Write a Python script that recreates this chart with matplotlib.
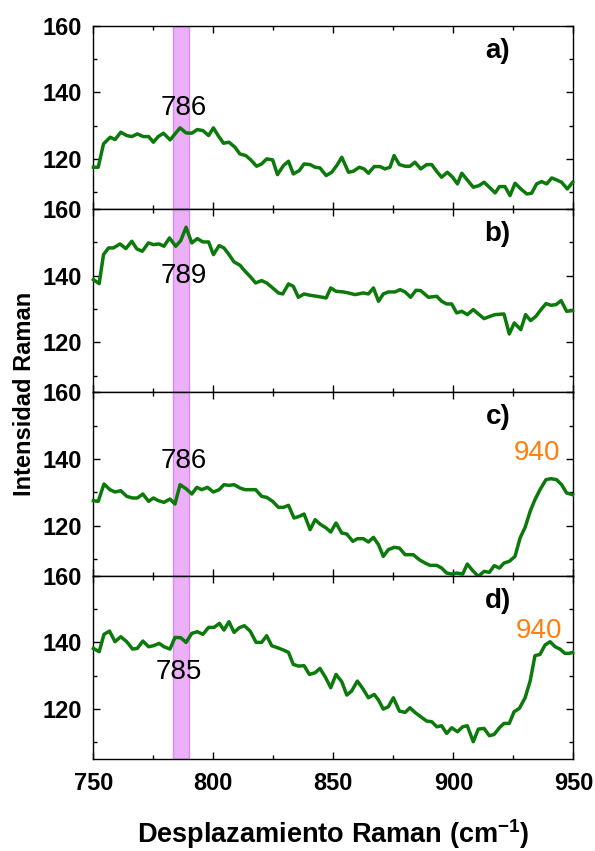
import numpy as np
import matplotlib.pyplot as plt
from matplotlib.ticker import MultipleLocator

plt.rcParams['font.family'] = ['Liberation Sans', 'DejaVu Sans']
plt.rcParams['mathtext.fontset'] = 'custom'
plt.rcParams['mathtext.rm'] = 'Liberation Sans'
plt.rcParams['mathtext.bf'] = 'Liberation Sans:bold'

# panel a)
xa = [750, 752, 754.2, 757, 759, 761.4, 763.9, 766, 768.3, 770.8, 773, 775, 777, 779.2, 782, 784,
      786.1, 788.6, 791, 793.3, 795.6, 798, 800, 802, 804.2, 806.5, 809, 811, 813.5, 815.6, 818,
      820.1, 822.2, 824.7, 826.7, 829.2, 831.3, 833.3, 835.8, 837.8, 840.3, 842.4, 844.4, 847,
      849.3, 851.4, 853.5, 856.3, 858.3, 860.8, 862.8, 864.6, 867, 869.4, 871.5, 873.6, 875.3,
      877.5, 879.9, 881.9, 884, 886.4, 888.9, 891, 893, 895.1, 897.5, 899.7, 901.7, 903.5, 905.8,
      908.3, 910.7, 912.8, 915, 917.4, 919.2, 921.5, 923.6, 925.7, 928.1, 930.6, 932.6, 934.7,
      936.8, 938.9, 941, 943, 945.1, 947.5, 949.7]
ya = [117.5, 117.5, 124.5, 126.5, 125.8, 128, 127, 126.7, 127.5, 126.7, 126.7, 125, 126.7, 127.7,
      125.7, 127.5, 129.3, 127.8, 127.7, 128.8, 128.5, 127, 129.3, 127, 124.7, 125, 123.5, 121.5,
      121, 119.7, 117.8, 118.5, 120, 119.7, 115.3, 118, 119.3, 115.5, 116.5, 118.5, 118.3, 117.5,
      117.3, 115, 116, 118, 120.5, 116, 116.3, 117.5, 117, 115.7, 117.7, 117.7, 117, 117.5, 121,
      118.3, 117.8, 117.8, 119, 117, 118.3, 118.3, 116.3, 114.5, 116, 114.5, 112.5, 115.7, 113.7,
      111.5, 112, 113, 111.5, 109.8, 111.7, 111.7, 109, 112.7, 111, 109.5, 109.7, 112.5, 113.2,
      112.5, 114.3, 113.7, 113, 111, 113]

# panel b)
xb = [750, 752.4, 754.2, 756.3, 758.3, 761.1, 763.5, 766, 768.1, 770.4, 772.9, 775, 777.4, 779.4,
      781.7, 784.3, 786.4, 788.6, 791, 793.3, 795.6, 798, 800, 802.4, 804.4, 806.5, 808.6, 811.1,
      813.2, 815.6, 817.6, 820.1, 822.2, 824.7, 827.1, 828.9, 831.3, 833.3, 835.4, 837.8, 840.3,
      843.1, 847, 848.9, 851.1, 854.2, 856.3, 859, 862.5, 864.6, 866.7, 868.8, 870.8, 872.9, 875.7,
      877.8, 879.9, 882.2, 884.4, 886.4, 889.6, 893.1, 895.1, 897.2, 899.3, 901.4, 903.5, 905.8,
      908.3, 910.4, 912.8, 915.3, 917.4, 921.1, 923.3, 925.4, 928.1, 930.1, 932.2, 934.4, 936.5,
      938.6, 940.7, 942.8, 944.9, 947.2, 949.7]
yb = [138.8, 137.6, 146.3, 148.3, 148.3, 149.5, 148.1, 150.3, 148, 147.3, 149.8, 149.3, 149.5, 148.8,
      151.3, 148.8, 150.5, 154.5, 149.8, 151.1, 150.1, 150.1, 146.3, 149, 148.3, 146.3, 144.1, 143.1,
      141.3, 139.5, 137.8, 138.5, 137.8, 136.3, 134.8, 134.5, 137.5, 136.8, 133.5, 134.5, 134.1,
      133.8, 133.3, 136.3, 135.3, 135.1, 134.8, 134.3, 134.8, 134.5, 136.3, 132.3, 134.5, 135.1,
      135.1, 135.8, 135.1, 133.5, 135.6, 135.5, 133.5, 133.8, 132.3, 131.5, 131.5, 128.8, 129.3,
      128.3, 129.8, 128.5, 127.1, 127.8, 128.3, 128.5, 122.5, 125.8, 123.8, 128.3, 126.5, 127.8,
      129.8, 131.6, 131.1, 131.3, 132.5, 129.3, 129.5]

# panel c)
xc = [750, 752, 754.4, 756.9, 759, 761.4, 763.9, 766.3, 768.3, 770.6, 773, 775, 777.1, 779.4, 781.9,
      784, 786.1, 788.6, 791, 793.1, 795.1, 797.5, 800, 802.4, 804.4, 806.5, 808.6, 811.1, 813.2,
      815.6, 817.6, 820.1, 822.2, 824.7, 827.1, 829.2, 831.3, 833.6, 835.8, 837.8, 840.3, 842.4,
      844.4, 847, 848.9, 851.1, 853.5, 855.6, 858.1, 860, 862.5, 864.6, 866.7, 868.8, 870.8, 872.9,
      875.3, 877.5, 879.9, 883.3, 885.8, 888.2, 890.3, 893.1, 895.1, 897.2, 899.3, 901.4, 903.9,
      905.8, 908.1, 910.4, 912.8, 915, 917, 919.2, 921.1, 923.3, 925.7, 927.8, 929.9, 932, 934,
      936.1, 938.6, 940.6, 943, 945.1, 947.2, 949.7]
yc = [127.5, 127.3, 132.5, 130.8, 130.1, 130.5, 128.8, 128.3, 128.3, 129.5, 127.3, 128.3, 127.5, 127,
      128, 126.5, 132.3, 131.1, 129.5, 131.5, 130.8, 131.5, 130.1, 130.8, 132.3, 132.1, 132.3, 131.3,
      130.8, 130.8, 130.8, 128.8, 128.5, 127.3, 125.5, 125.5, 126.1, 122.3, 122.8, 123.5, 118.8,
      121.8, 120.5, 119.3, 118.1, 120.8, 117.8, 117.5, 115.3, 116.1, 116.1, 115.1, 116.5, 114.3,
      110.8, 112.8, 113.5, 113.3, 111.3, 111.3, 109.8, 108.8, 108.1, 108.1, 107.3, 105.8, 105.5,
      105.8, 105.5, 108.5, 106.5, 104.8, 106.3, 106, 108, 107.3, 108.8, 109.3, 110.8, 116.3, 119.5,
      124.3, 127.8, 130.8, 133.8, 134.1, 133.8, 132.3, 129.8, 129.3]

# panel d)
xd = [750, 752.4, 754.4, 756.7, 759, 761.4, 763.9, 766.3, 768.3, 770.6, 773, 775, 777.4, 779.4, 781.9,
      784, 786.4, 788.6, 791, 793.3, 795.6, 798, 800.3, 802.5, 804.4, 806.5, 808.6, 810.8, 812.9,
      815.3, 817.8, 820.1, 822.2, 824.3, 826.7, 829.2, 831.3, 833.3, 835.4, 837.8, 840, 842.4, 844.4,
      846.8, 848.9, 851.1, 853.5, 855.6, 857.6, 860, 862.2, 864.6, 867, 868.8, 870.8, 872.9, 875,
      877.5, 879.9, 881.9, 884, 886.4, 888.9, 891, 893.1, 895.1, 897.2, 899.3, 901.7, 903.9, 905.8,
      908.3, 910.4, 912.8, 915, 917, 919.2, 921.1, 923.3, 925.3, 927.5, 929.9, 932, 934, 936.1,
      938.2, 940.3, 942.4, 944.4, 946.5, 948.3, 949.7]
yd = [138.2, 137.2, 142.4, 143.4, 140.2, 141.7, 140.2, 138, 138.2, 140.4, 138.7, 139, 139.7, 138.7, 138,
      141.5, 141.4, 140, 142.7, 143.2, 142.4, 144.5, 144.5, 145.7, 143.7, 146.2, 143, 144.4, 145,
      143.4, 140, 140, 142, 139, 138.4, 137.7, 137, 133.4, 132.9, 133, 130.4, 130.9, 132.2, 129.4,
      126.4, 130.4, 128.2, 124.2, 125.4, 128.4, 126.2, 123.4, 124.4, 122.7, 120, 120.7, 123.4, 119.4,
      119, 120.4, 119, 117.7, 116.4, 116.2, 114.7, 115, 112.7, 114.4, 113.2, 114.7, 115, 110.2, 114,
      114.2, 112, 112.4, 114.4, 115.7, 115.7, 119.2, 120.2, 123.4, 128.4, 136, 136.4, 139.2, 140.2,
      138.7, 138, 136.7, 136.7, 137]

series = [(xa, ya), (xb, yb), (xc, yc), (xd, yd)]
panel_labels = ['a)', 'b)', 'c)', 'd)']
peak_labels = [('786', 787.5, 135.3), ('789', 787.5, 140), ('786', 787.5, 139.3), ('785', 785.7, 131.2)]
extra_labels = [None, None, ('940', 935, 141.8), ('940', 935.8, 143.4)]

fig, axes = plt.subplots(4, 1, figsize=(5.95, 8.51), dpi=100, sharex=True)
fig.subplots_adjust(left=0.157, right=0.9636, top=0.97, bottom=0.108, hspace=0)

for i, ax in enumerate(axes):
    x, y = series[i]
    ax.axvspan(783, 790, facecolor='#ecb0f8', edgecolor='#d98cf0', lw=1, zorder=1)
    ax.plot(x, y, color='#0b7a0b', lw=2.5, zorder=3, clip_on=False)
    ax.set_xlim(750, 950)
    ax.set_ylim(105, 160)
    ax.xaxis.set_major_locator(MultipleLocator(50))
    ax.xaxis.set_minor_locator(MultipleLocator(25))
    ax.yaxis.set_major_locator(MultipleLocator(20))
    ax.yaxis.set_minor_locator(MultipleLocator(10))
    ax.tick_params(which='both', direction='in', top=True, right=True, width=1.0,
                   labelsize=17)
    ax.tick_params(which='major', length=5)
    ax.tick_params(which='minor', length=3)
    ax.tick_params(axis='y', pad=8)
    ax.tick_params(axis='x', pad=9)
    for lab in ax.get_xticklabels() + ax.get_yticklabels():
        lab.set_fontweight('bold')
    for sp in ax.spines.values():
        sp.set_linewidth(1.0)
    ax.text(918.5, 152.5, panel_labels[i], fontsize=20, fontweight='bold', ha='center', va='center')
    t, tx, ty = peak_labels[i]
    ax.text(tx, ty, t, fontsize=20, ha='center', va='center', zorder=4)
    if extra_labels[i] is not None:
        t, tx, ty = extra_labels[i]
        ax.text(tx, ty, t, fontsize=20, color='#ff7f0e', ha='center', va='center', zorder=4)

axes[-1].set_xticks([750, 800, 850, 900, 950])
axes[-1].set_xlabel('Desplazamiento Raman (cm$^{\\mathbf{-1}}$)', fontsize=19.5, fontweight='bold', labelpad=16)
fig.text(0.042, 0.537, 'Intensidad Raman', rotation=90, fontsize=17, fontweight='bold',
         ha='center', va='center')

plt.savefig('out.png', dpi=100)
